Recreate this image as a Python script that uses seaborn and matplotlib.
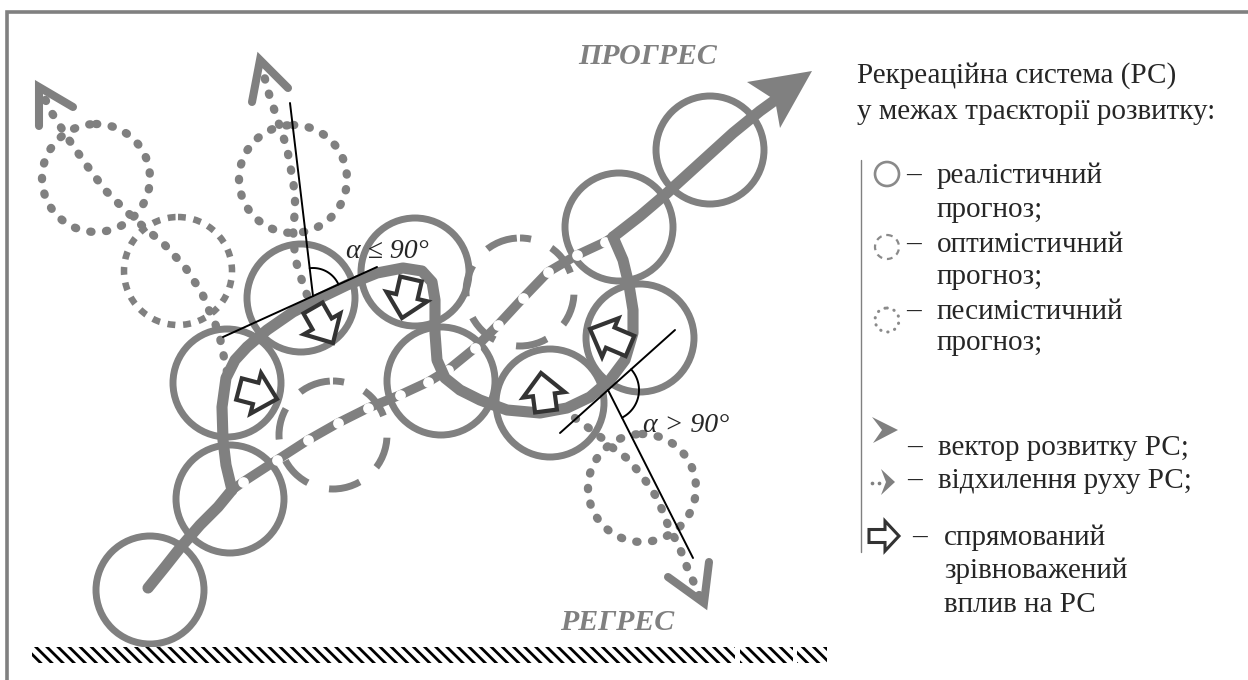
import numpy as np
import matplotlib
matplotlib.use("Agg")
import matplotlib.pyplot as plt
from matplotlib.patches import Circle, Polygon, Rectangle
import seaborn as sns

sns.set_theme(style="white")
plt.rcParams["font.family"] = ["Liberation Serif", "DejaVu Serif"]
plt.rcParams["hatch.linewidth"] = 2.0
plt.rcParams["hatch.color"] = "black"

GRAY = "#808080"
DARK = "#333333"

# ---------------- data (pixel space of the scheme) ----------------
# realistic forecast circles
real_cx = [150, 230, 227, 301, 415, 441, 550, 640, 619, 710]
real_cy = [590, 499, 383, 298, 272, 381, 403, 338, 227, 150]
# optimistic forecast circles (long dashes / square dashes)
opt_cx = [520, 333]
opt_cy = [292, 435]
opt2_cx = [178]
opt2_cy = [271]
# pessimistic forecast circles
pes_cx = [96, 293, 642]
pes_cy = [178, 179, 488]
RADIUS = 54

# main development vector
main_start_x = [148, 165, 180, 200, 218, 232]
main_start_y = [588, 567, 548, 525, 507, 490]
dev_x = [232, 243, 277, 308, 338, 368, 400, 428, 448, 475, 498, 523, 548, 577, 605, 613]
dev_y = [490, 482, 460, 440, 423, 408, 395, 382, 370, 348, 325, 298, 272, 255, 242, 237]
main_end_x = [613, 640, 667, 700, 733, 760, 778]
main_end_y = [237, 216, 193, 163, 133, 111, 98]
head_x = [812, 747, 775, 780]
head_y = [71, 82, 100, 128]

# balanced trajectory loop
loop_x = [232, 226, 223, 222, 226, 235, 247, 267, 293, 320, 347, 377, 403, 422, 432, 435,
          435, 437, 445, 460, 480, 507, 540, 567, 590, 610, 625, 633, 633, 629, 623, 613]
loop_y = [490, 465, 440, 407, 378, 360, 347, 330, 312, 298, 285, 273, 268, 271, 282, 300,
          333, 360, 378, 390, 400, 410, 413, 408, 397, 380, 360, 333, 310, 285, 260, 237]

# deviation paths (dotted)
devp1_x = [227, 220, 215, 208, 202, 185, 163, 147, 127, 105, 85, 67, 50, 42]
devp1_y = [372, 338, 323, 308, 293, 267, 243, 230, 212, 190, 163, 137, 110, 92]
devp2_x = [307, 300, 295, 293, 295, 295, 293, 290, 287, 282, 277, 272, 267, 263]
devp2_y = [295, 275, 258, 228, 212, 197, 180, 165, 148, 133, 118, 103, 88, 70]
devp3_x = [575, 590, 603, 613, 628, 638, 648, 657, 663, 669, 677, 683, 688, 695, 700]
devp3_y = [418, 429, 439, 448, 459, 471, 484, 498, 512, 528, 542, 556, 570, 585, 597]
# open chevron heads: arm1, tip, arm2
chev_x = [[73, 39, 39], [288, 260, 252], [709, 704, 668]]
chev_y = [[107, 87, 126], [88, 60, 102], [562, 603, 577]]

# balanced influence block arrows (tail -> tip)
arr_tail_x = [239, 313, 411, 546, 630]
arr_tail_y = [389, 308, 279, 411, 346]
arr_tip_x = [277, 333, 402, 541, 590]
arr_tip_y = [399, 343, 318, 373, 329]

# angle illustrations
tan1 = ([223, 377], [337, 267]); norm1 = ([290, 313], [103, 296])
tan2 = ([560, 675], [433, 330]); norm2 = ([608, 693], [390, 558])

# texts
title_lines = ["Рекреаційна система (РС)", "у межах траєкторії розвитку:"]
legend_items = [["реалістичний", "прогноз;"], ["оптимістичний", "прогноз;"],
                ["песимістичний", "прогноз;"]]
legend_items2 = ["вектор розвитку РС;", "відхилення руху РС;"]
legend_item3 = ["спрямований", "зрівноважений", "вплив на РС"]

# ---------------- figure ----------------
fig = plt.figure(figsize=(12.48, 6.8), dpi=100)
ax = fig.add_axes([0, 0, 1, 1])

DOT = (0, (0.15, 1.75))
DOT_LW = 6.0


def circle(cx, cy, r, lw, ls, cap="butt", z=2, color=GRAY):
    c = Circle((cx, cy), r, fill=False, edgecolor=color, linewidth=lw, zorder=z)
    c.set_linestyle(ls)
    c.set_capstyle(cap)
    ax.add_patch(c)


def block_arrow(tail, tip, w, W, hl, lw, z=8):
    t = np.array(tail, float); p = np.array(tip, float)
    d = p - t; L = np.hypot(*d); u = d / L; n = np.array([-u[1], u[0]])
    b = p - u * hl
    pts = [t + n * w, b + n * w, b + n * W, p, b - n * W, b - n * w, t - n * w]
    ax.add_patch(Polygon(pts, closed=True, facecolor="white", edgecolor=DARK,
                         linewidth=lw, joinstyle="miter", zorder=z))


def arc(c, r, a0, a1, lw=1.4):
    a = np.radians(np.linspace(a0, a1, 60))
    ax.plot(c[0] + r * np.cos(a), c[1] + r * np.sin(a), color="black", lw=lw, zorder=9)


# border
ax.plot([7, 7, 1248], [690, 12, 12], color=GRAY, lw=2.6, solid_joinstyle="miter", zorder=1)

# circles
for x, y in zip(real_cx, real_cy):
    circle(x, y, RADIUS, 5.0, "solid")
for x, y in zip(opt_cx, opt_cy):
    circle(x, y, RADIUS, 5.0, (3, (4.6, 3.2)))
for x, y in zip(opt2_cx, opt2_cy):
    circle(x, y, RADIUS, 4.7, (0, (1.2, 1.2)))
for x, y in zip(pes_cx, pes_cy):
    circle(x, y, RADIUS, DOT_LW, DOT, cap="round")

# deviation dotted paths
for px, py in [(devp1_x, devp1_y), (devp2_x, devp2_y), (devp3_x, devp3_y)]:
    sns.lineplot(x=px, y=py, sort=False, estimator=None, ax=ax, color=GRAY, lw=DOT_LW)
    ln = ax.lines[-1]
    ln.set_linestyle(DOT)
    ln.set_dash_capstyle("round")
    ln.set_zorder(4)
for cx_, cy_ in zip(chev_x, chev_y):
    ax.plot(cx_, cy_, color=GRAY, lw=5.8, solid_capstyle="round",
            solid_joinstyle="miter", zorder=4)

# main trajectory
sns.lineplot(x=main_start_x, y=main_start_y, sort=False, estimator=None, ax=ax,
             color=GRAY, lw=8)
ax.lines[-1].set_zorder(5)
sns.lineplot(x=dev_x, y=dev_y, sort=False, estimator=None, ax=ax, color=GRAY, lw=6.8)
ax.lines[-1].set_zorder(5)
sns.scatterplot(x=dev_x[1:-1], y=dev_y[1:-1], ax=ax, color="white", s=60, linewidth=0,
                zorder=6)
sns.lineplot(x=main_end_x, y=main_end_y, sort=False, estimator=None, ax=ax,
             color=GRAY, lw=8)
ax.lines[-1].set_zorder(5)
ax.add_patch(Polygon(list(zip(head_x, head_y)), closed=True, facecolor=GRAY,
                     edgecolor="none", zorder=5))
sns.lineplot(x=loop_x, y=loop_y, sort=False, estimator=None, ax=ax, color=GRAY, lw=8)
ax.lines[-1].set_zorder(7)
ax.lines[-1].set_solid_joinstyle("round")

# block arrows
for tx, ty, px, py in zip(arr_tail_x, arr_tail_y, arr_tip_x, arr_tip_y):
    block_arrow((tx, ty), (px, py), 11, 21, 22, 3.0)

# angle lines
for ln in (tan1, norm1, tan2, norm2):
    ax.plot(ln[0], ln[1], color="black", lw=1.4, zorder=9)
arc((313, 296), 28, -96.8, -24.4)
arc((608, 390), 31, -41.8, 63.2)
ax.text(387, 251, "α ≤ 90°", fontsize=20, fontstyle="italic", ha="center", va="center",
        zorder=10)
ax.text(686, 425, "α > 90°", fontsize=20, fontstyle="italic", ha="center", va="center",
        zorder=10)

# PROGRESS / REGRESS
ax.text(648, 57, "ПРОГРЕС", fontsize=21.5, fontweight="bold", fontstyle="italic",
        color=GRAY, ha="center", va="center")
ax.text(617, 622, "РЕГРЕС", fontsize=21.5, fontweight="bold", fontstyle="italic",
        color=GRAY, ha="center", va="center")

# hatched ground
for x0, x1 in [(32, 735), (740, 793), (797, 827)]:
    ax.add_patch(Rectangle((x0, 647), x1 - x0, 16, facecolor="white", edgecolor="black",
                           linewidth=0, hatch="\\\\\\", zorder=3))

# legend
FS = 21
ax.text(857, 83, title_lines[0], fontsize=FS, va="baseline", ha="left")
ax.text(857, 119, title_lines[1], fontsize=FS, va="baseline", ha="left")
ax.plot([861, 861], [160, 552], color=GRAY, lw=1.0)

base_y = [[183, 217], [252, 284], [319, 350]]
sym_y = [174, 247, 320]
styles = ["solid", (0, (2.6, 2.2)), (0, (0.1, 2.3))]
caps = ["butt", "butt", "round"]
lws = [1.9, 1.6, 2.2]
for (l1, l2), (b1, b2), sy, st, cp, lw_ in zip(legend_items, base_y, sym_y, styles, caps, lws):
    circle(887, sy, 12, lw_, st, cap=cp, z=3, color="#8a8a8a")
    ax.text(906, b1, "–", fontsize=FS, va="baseline")
    ax.text(937, b1, l1, fontsize=FS, va="baseline")
    ax.text(937, b2, l2, fontsize=FS, va="baseline")

# vector symbol
ax.add_patch(Polygon([(898, 430), (872, 417), (882, 430), (873, 443)], closed=True,
                     facecolor=GRAY, edgecolor="none"))
ax.text(907, 455, "–", fontsize=FS, va="baseline")
ax.text(938, 455, legend_items2[0], fontsize=FS, va="baseline")
# deviation symbol
ax.scatter([872, 879], [483, 483], s=7, color=GRAY, linewidth=0)
ax.add_patch(Polygon([(895, 482), (881, 469), (886, 482), (881, 495)], closed=True,
                     facecolor=GRAY, edgecolor="none"))
ax.text(907, 488, "–", fontsize=FS, va="baseline")
ax.text(938, 488, legend_items2[1], fontsize=FS, va="baseline")
# influence symbol
block_arrow((869, 536), (899, 536), 6.5, 15, 14, 2.2, z=3)
ax.text(912, 545, "–", fontsize=FS, va="baseline")
for i, s in enumerate(legend_item3):
    ax.text(944, 545 + 33.5 * i, s, fontsize=FS, va="baseline")

ax.set_xlim(0, 1248)
ax.set_ylim(680, 0)
ax.set_aspect("auto")
ax.axis("off")
fig.savefig("out.png", dpi=100, facecolor="white")
